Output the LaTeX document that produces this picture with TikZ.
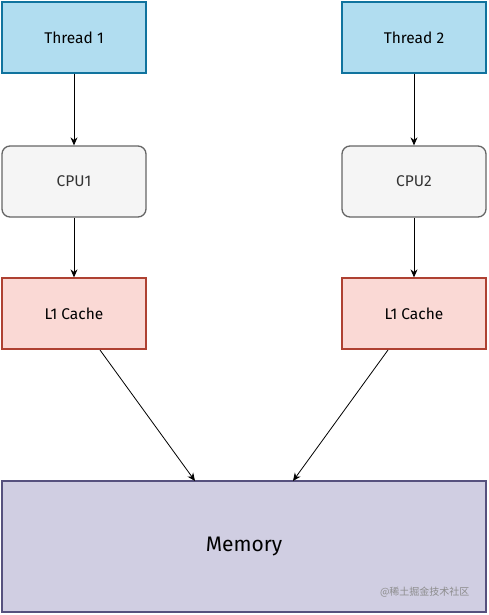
\documentclass[tikz,border=0pt]{standalone}
\usepackage{fontspec}
\setmainfont{Fira Sans}
\newfontfamily\cjkfont{Noto Sans CJK SC}
\usetikzlibrary{arrows.meta}

\definecolor{threadfill}{HTML}{B1DDF0}
\definecolor{threadline}{HTML}{10739E}
\definecolor{cpufill}{HTML}{F5F5F5}
\definecolor{cpuline}{HTML}{666666}
\definecolor{cachefill}{HTML}{FAD9D5}
\definecolor{cacheline}{HTML}{AE4132}
\definecolor{memfill}{HTML}{D0CEE2}
\definecolor{memline}{HTML}{56517E}

\begin{document}
\begin{tikzpicture}[
  x=1pt,y=-1pt,
  >={Stealth[length=8pt,width=7pt]},
  every node/.style={font=\fontsize{15.5}{18}\selectfont},
  box/.style={minimum width=144pt,minimum height=71pt,inner sep=0pt,line width=1.3pt},
  thread/.style={box,draw=threadline,fill=threadfill},
  cpu/.style={box,draw=cpuline,fill=cpufill,rounded corners=8pt,text=black!80},
  cache/.style={box,draw=cacheline,fill=cachefill},
  memory/.style={draw=memline,fill=memfill,line width=1.3pt,minimum width=484pt,
    minimum height=131pt,inner sep=0pt,font=\fontsize{21}{24}\selectfont},
  link/.style={->,line width=0.8pt}
]
\useasboundingbox (0,0) rectangle (488,615);

% ------------------------------------------------------------------
% Left column
% ------------------------------------------------------------------
\node[thread] (t1) at (74,37.5) {Thread 1};
\node[cpu]    (c1) at (74,181.5) {CPU1};
\node[cache]  (l1) at (74,313.5) {L1 Cache};

% ------------------------------------------------------------------
% Right column
% ------------------------------------------------------------------
\node[thread] (t2) at (414,37.5) {Thread 2};
\node[cpu]    (c2) at (414,181.5) {CPU2};
\node[cache]  (l2) at (414,313.5) {L1 Cache};

% ------------------------------------------------------------------
% Shared memory
% ------------------------------------------------------------------
\node[memory] (mem) at (244,546.5) {Memory};
\node[anchor=east,text=black!45,font=\cjkfont\fontsize{10}{12}\selectfont]
  (wm) at (473,592) {@稀土掘金技术社区};

\coordinate (m1) at (195,481);
\coordinate (m2) at (293,481);
\coordinate (s1) at (100,350);
\coordinate (s2) at (388,350);

\draw[link] (t1) -- (c1);
\draw[link] (c1) -- (l1);
\draw[link] (t2) -- (c2);
\draw[link] (c2) -- (l2);
\draw[link] (s1) -- (m1);
\draw[link] (s2) -- (m2);

\end{tikzpicture}
\end{document}
